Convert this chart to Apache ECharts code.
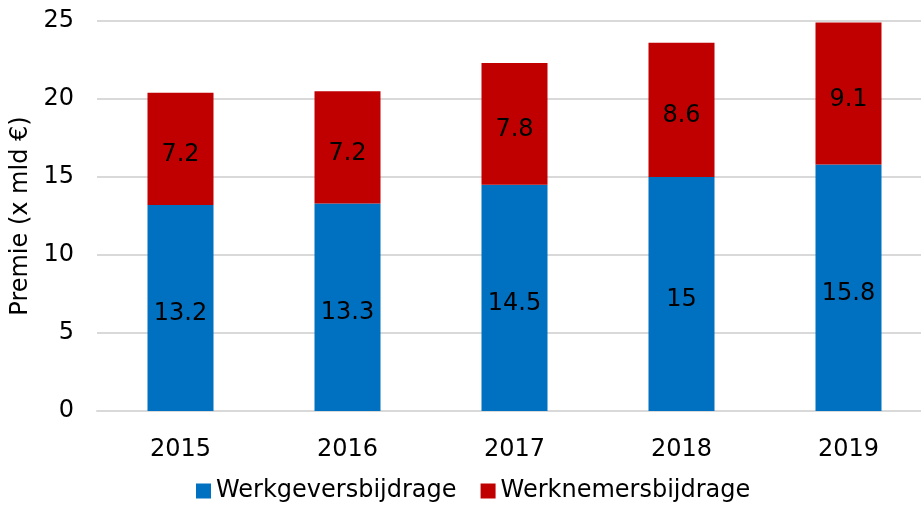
<!DOCTYPE html>
<html>
<head>
<meta charset="utf-8">
<script src="https://cdn.jsdelivr.net/npm/echarts@6/dist/echarts.min.js"></script>
<style>
  html, body { margin: 0; padding: 0; background: #fff; }
  #chart { width: 921px; height: 506px; }
</style>
</head>
<body>
<div id="chart"></div>
<script>
const years = ['2015', '2016', '2017', '2018', '2019']
const werkgever = [13.2, 13.3, 14.5, 15, 15.8]
const werknemer = [7.2, 7.2, 7.8, 8.6, 9.1]

const font = 'DejaVu Sans, Verdana, sans-serif'
const chart = echarts.init(document.getElementById('chart'))

chart.setOption({
  animation: false,
  textStyle: { fontFamily: font },
  grid: { left: 97, width: 835, top: 21, bottom: 95, outerBoundsMode: 'none', containLabel: false },
  legend: {
    top: 479,
    left: 196,
    padding: 0,
    itemWidth: 15,
    itemHeight: 15,
    itemGap: 24,
    icon: 'rect',
    textStyle: { fontSize: 24, color: '#000', fontFamily: font },
    data: ['Werkgeversbijdrage', 'Werknemersbijdrage']
  },
  xAxis: {
    type: 'category',
    data: years,
    axisTick: { show: false },
    axisLine: { lineStyle: { color: '#d9d9d9', width: 2 } },
    axisLabel: { fontSize: 24, color: '#000', margin: 27, fontFamily: font }
  },
  yAxis: {
    type: 'value',
    min: 0,
    max: 25,
    interval: 5,
    name: 'Premie (x mld €)',
    nameLocation: 'middle',
    nameGap: 50,
    nameTextStyle: { fontSize: 24, color: '#000', fontFamily: font },
    axisLabel: { fontSize: 24, color: '#000', margin: 23, fontFamily: font },
    splitLine: { lineStyle: { color: '#d9d9d9', width: 2 } }
  },
  series: [
    {
      name: 'Werkgeversbijdrage',
      type: 'bar',
      stack: 'total',
      barWidth: 66,
      itemStyle: { color: '#0070C0' },
      label: { show: true, position: 'inside', offset: [0, 6], fontSize: 24, color: '#000', fontFamily: font },
      data: werkgever
    },
    {
      name: 'Werknemersbijdrage',
      type: 'bar',
      stack: 'total',
      barWidth: 66,
      itemStyle: { color: '#C00000' },
      label: { show: true, position: 'inside', offset: [0, 6], fontSize: 24, color: '#000', fontFamily: font },
      data: werknemer
    }
  ]
})
</script>
</body>
</html>
